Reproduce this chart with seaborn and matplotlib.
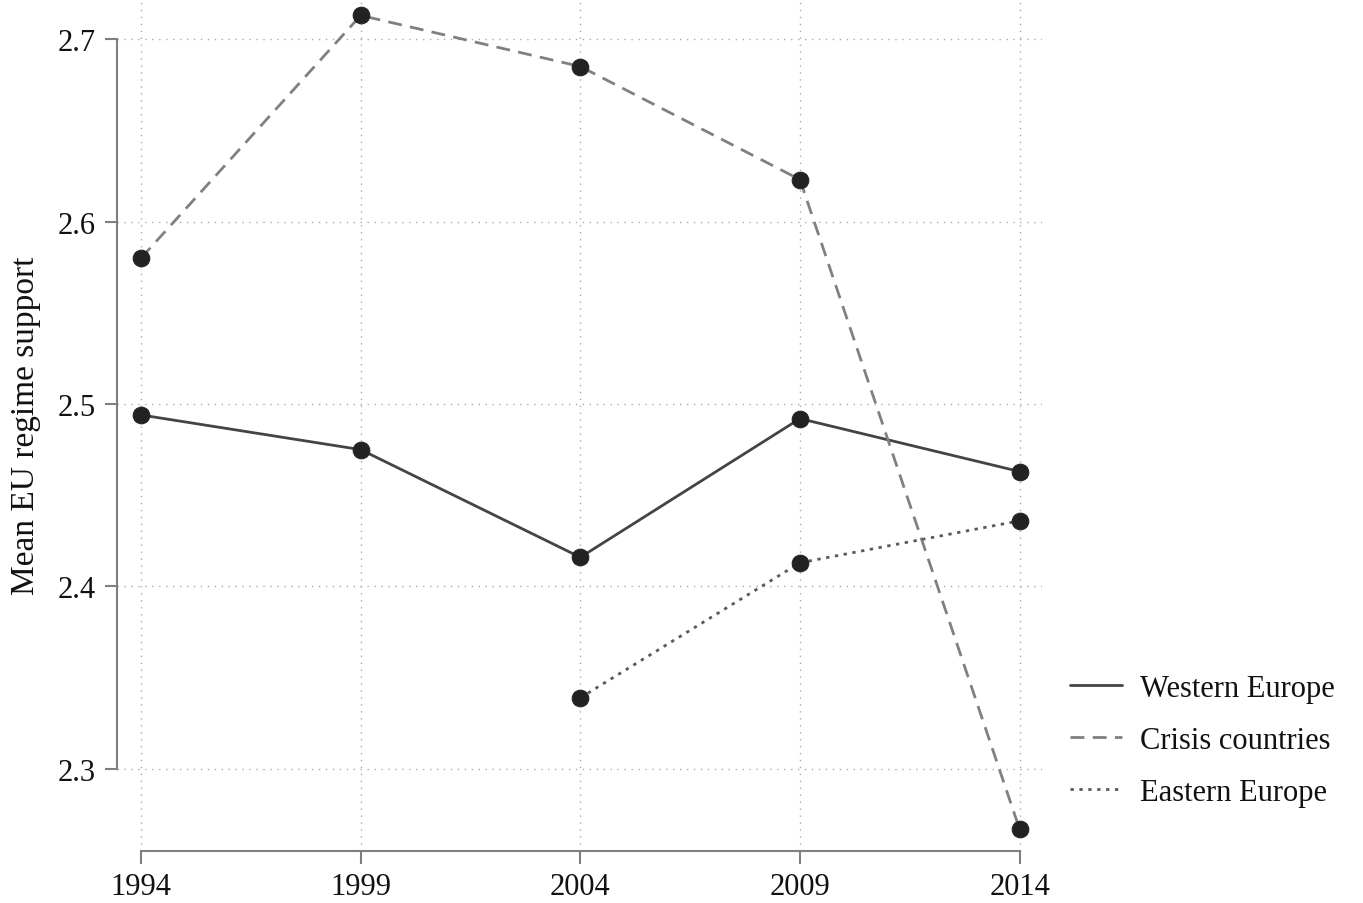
import matplotlib
matplotlib.use("Agg")
import matplotlib.pyplot as plt
import seaborn as sns
import pandas as pd
from matplotlib.lines import Line2D

years = [1994, 1999, 2004, 2009, 2014]
western = [2.494, 2.475, 2.416, 2.492, 2.463]
crisis = [2.580, 2.713, 2.685, 2.623, 2.267]
eastern_years = [2004, 2009, 2014]
eastern = [2.339, 2.413, 2.436]

sns.set_theme(style="white")
plt.rcParams["font.family"] = ["Liberation Serif", "DejaVu Serif"]

series = [
    ("Western Europe", years, western, "#444444", "-"),
    ("Crisis countries", years, crisis, "#808080", (0, (5, 3))),
    ("Eastern Europe", eastern_years, eastern, "#5a5a5a", (0, (1.2, 2.0))),
]

fig = plt.figure(figsize=(13.63, 9.04), dpi=100)
ax = fig.add_axes([0.0858, 0.0575, 0.679, 0.9425])

handles = []
for name, xs, ys, col, ls in series:
    df = pd.DataFrame({"year": xs, "val": ys})
    sns.lineplot(data=df, x="year", y="val", ax=ax, color=col, linewidth=2.0,
                 linestyle=ls, marker="o", markersize=12,
                 markerfacecolor="#222222", markeredgecolor="#222222")
    handles.append(Line2D([0], [0], color=col, linewidth=2.0, linestyle=ls, label=name))

ax.set_xlim(1993.45, 2014.52)
ax.set_ylim(2.255, 2.722)
ax.set_xticks(years)
ax.set_yticks([2.3, 2.4, 2.5, 2.6, 2.7])
ax.set_yticklabels(["2.3", "2.4", "2.5", "2.6", "2.7"])
ax.grid(True, linestyle=(0, (1, 4)), color="#aaaaaa", linewidth=1.0)
ax.set_axisbelow(True)

for s in ["top", "right"]:
    ax.spines[s].set_visible(False)
for s in ["left", "bottom"]:
    ax.spines[s].set_color("#808080")
    ax.spines[s].set_linewidth(1.5)
ax.spines["left"].set_bounds(2.3, 2.7)
ax.spines["bottom"].set_bounds(1994, 2014)
ax.tick_params(axis="both", which="major", direction="out", length=9, width=1.5,
               color="#808080", labelsize=22, labelcolor="#111111", pad=6,
               left=True, bottom=True)

ax.set_xlabel("")
ax.set_ylabel("Mean EU regime support", fontsize=24, color="#111111", labelpad=12)

ax.legend(handles=handles, loc="center left", bbox_to_anchor=(1.0, 0.13),
          frameon=False, fontsize=22, handlelength=1.7, handletextpad=0.6,
          labelspacing=0.75, labelcolor="#111111")

fig.savefig("out.png", dpi=100)
